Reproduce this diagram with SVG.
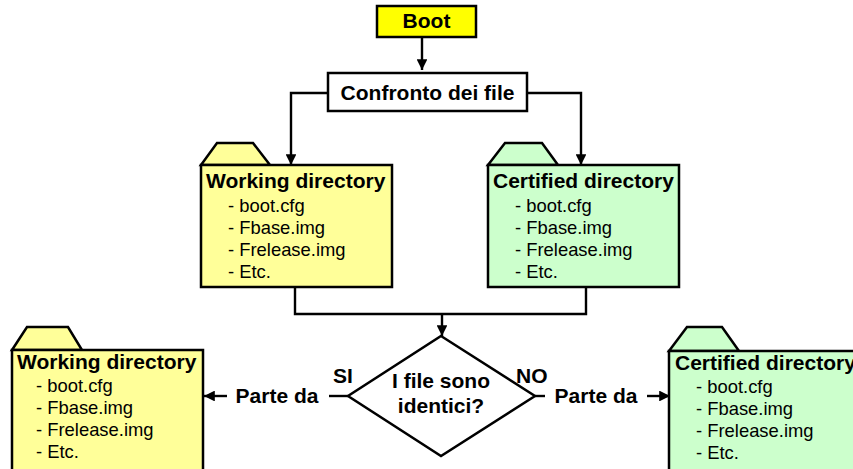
<svg xmlns="http://www.w3.org/2000/svg" width="853" height="469" viewBox="0 0 853 469">
<defs>
<marker id="ah" viewBox="0 0 10 10" refX="10" refY="5" markerWidth="4.5" markerHeight="4.5" orient="auto" markerUnits="strokeWidth">
<path d="M0,0 L10,5 L0,10 z" fill="#000"/>
</marker>
<style>
.b{stroke:#000;stroke-width:2.5}
.w{fill:#FFFF99}
.c{fill:#CCFFCC}
.t{font-family:"Liberation Sans",Arial,sans-serif;font-weight:bold;font-size:21px;fill:#000}
.i{font-family:"Liberation Sans",Arial,sans-serif;font-size:18.4px;fill:#000}
.l{fill:none;stroke:#000;stroke-width:2.4}
</style>
</defs>
<rect width="853" height="469" fill="#fff"/>
<g id="connectors">
<path class="l" d="M422,37 V70" marker-end="url(#ah)"/>
<path class="l" d="M328,93 H291 V165" marker-end="url(#ah)"/>
<path class="l" d="M527,93 H581 V165" marker-end="url(#ah)"/>
<path class="l" d="M295,287 V314 H586 V287"/>
<path class="l" d="M442,314 V336" marker-end="url(#ah)"/>
<path class="l" d="M348,396 H329"/>
<path class="l" d="M227,396 H204" marker-end="url(#ah)"/>
<path class="l" d="M535,396 H545"/>
<path class="l" d="M647,396 H670" marker-end="url(#ah)"/>
<text class="t" x="333" y="383" font-size="19.5">SI</text>
<text class="t" x="516" y="383" font-size="19.5">NO</text>
<text class="t" x="277" y="403" text-anchor="middle">Parte da</text>
<text class="t" x="596" y="403" text-anchor="middle">Parte da</text>
</g>
<g id="boot">
<rect class="b" x="377" y="6" width="99" height="31" fill="#FFFF00"/>
<text class="t" x="426.5" y="28" text-anchor="middle" font-size="19">Boot</text>
</g>
<g id="confronto">
<rect class="b" x="328" y="73" width="199" height="38" fill="#fff"/>
<text class="t" x="427.5" y="100" text-anchor="middle">Confronto dei file</text>
</g>
<g id="working-top">
<path class="b w" d="M201,165 L217,143 H253 L270,165 Z"/>
<rect class="b w" x="201" y="165" width="191" height="122"/>
<text class="t" x="206" y="188">Working directory</text>
<text class="i" x="228" y="212">- boot.cfg</text>
<text class="i" x="228" y="234">- Fbase.img</text>
<text class="i" x="228" y="256">- Frelease.img</text>
<text class="i" x="228" y="278">- Etc.</text>
</g>
<g id="certified-top">
<path class="b c" d="M488,165 L505,143 H542 L558,165 Z"/>
<rect class="b c" x="488" y="165" width="191" height="122"/>
<text class="t" x="493" y="188">Certified directory</text>
<text class="i" x="515" y="212">- boot.cfg</text>
<text class="i" x="515" y="234">- Fbase.img</text>
<text class="i" x="515" y="256">- Frelease.img</text>
<text class="i" x="515" y="278">- Etc.</text>
</g>
<g id="decision">
<path class="b" d="M441,336 L535,396 L441,456 L348,396 Z" fill="#fff"/>
<text class="t" x="441" y="388" text-anchor="middle">I file sono</text>
<text class="t" x="441" y="413" text-anchor="middle">identici?</text>
</g>
<g id="working-bottom">
<path class="b w" d="M12,350 L27,327 H68 L82,350 Z"/>
<rect class="b w" x="12" y="350" width="191" height="130"/>
<text class="t" x="17" y="369">Working directory</text>
<text class="i" x="36" y="392">- boot.cfg</text>
<text class="i" x="36" y="414">- Fbase.img</text>
<text class="i" x="36" y="436">- Frelease.img</text>
<text class="i" x="36" y="458">- Etc.</text>
</g>
<g id="certified-bottom">
<path class="b c" d="M669,351 L687,327 H722 L739,351 Z"/>
<rect class="b c" x="669" y="351" width="200" height="130"/>
<text class="t" x="675" y="370">Certified directory</text>
<text class="i" x="696" y="393">- boot.cfg</text>
<text class="i" x="696" y="415">- Fbase.img</text>
<text class="i" x="696" y="437">- Frelease.img</text>
<text class="i" x="696" y="459">- Etc.</text>
</g>
</svg>
